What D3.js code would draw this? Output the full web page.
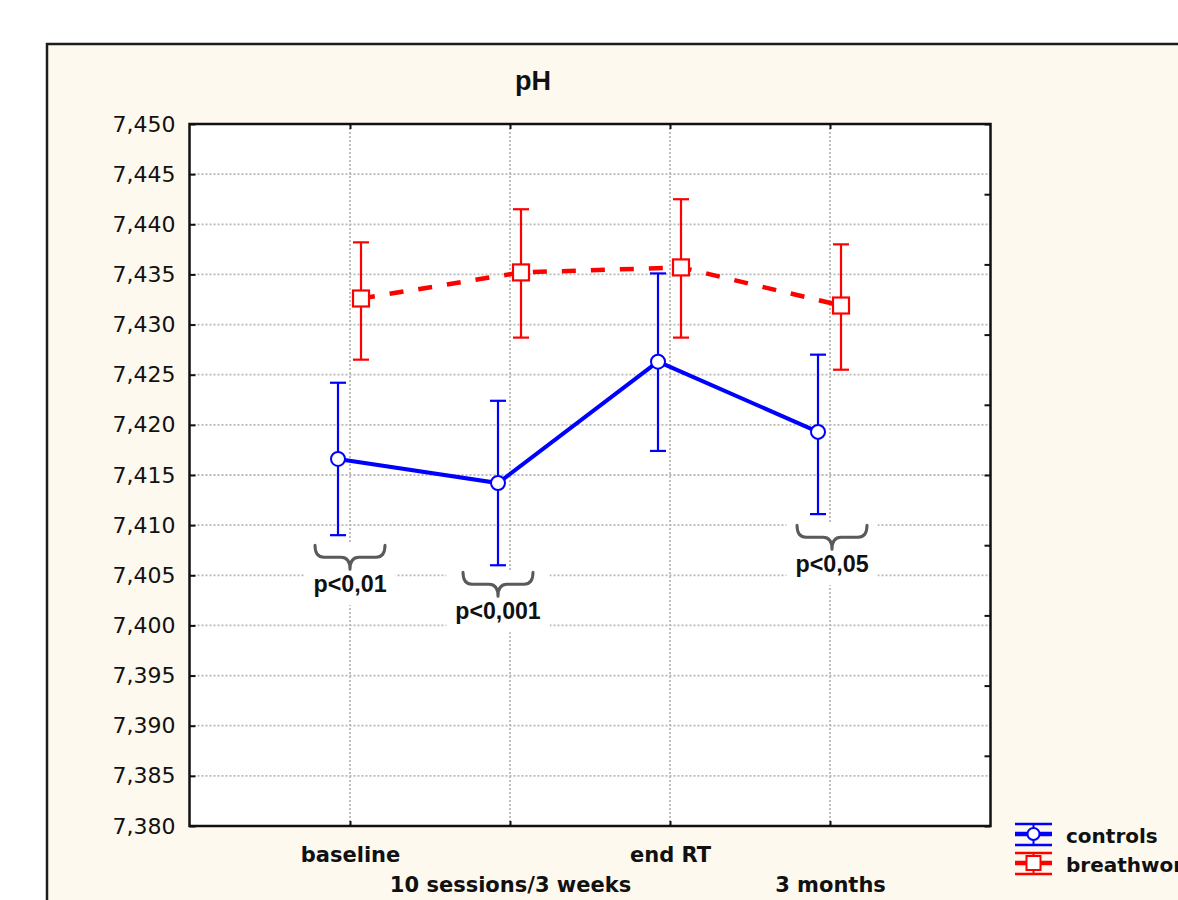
<!DOCTYPE html>
<html>
<head>
<meta charset="utf-8">
<script src="https://cdn.jsdelivr.net/npm/d3@7"></script>
<style>
  html, body { margin: 0; padding: 0; background: #ffffff; }
  svg { display: block; }
</style>
</head>
<body>
<svg id="chart" width="1178" height="900"></svg>
<script>
// ---- data ----
const categories = ["baseline", "10 sessions/3 weeks", "end RT", "3 months"];

const controlsMean  = [7.4166, 7.4142, 7.4263, 7.4193];
const controlsUpper = [7.4242, 7.4224, 7.4351, 7.4270];
const controlsLower = [7.4090, 7.4060, 7.4174, 7.4111];

const breathMean  = [7.4326, 7.4352, 7.4357, 7.4319];
const breathUpper = [7.4382, 7.4415, 7.4425, 7.4380];
const breathLower = [7.4265, 7.4287, 7.4287, 7.4255];

const seriesNames = ["controls", "breathwork"];

const yTickValues = [7.380, 7.385, 7.390, 7.395, 7.400, 7.405, 7.410,
                     7.415, 7.420, 7.425, 7.430, 7.435, 7.440, 7.445, 7.450];

const pLabels     = ["p<0,01", "p<0,001", "p<0,05"];
const pCategory   = [0, 1, 3];
const pBraceValue = [7.4080, 7.4053, 7.4100];

// ---- layout & style ----
const plotL = 189.5, plotR = 990.5, plotT = 124, plotB = 826;
const BLUE = "#0000ff", RED = "#ff0000";
const seriesOffset = [-12, 11];       // horizontal dodge of the two groups
const braceDx = [0, -12, 2];          // brace nudges relative to category
const axisFont = "'DejaVu Sans', Verdana, sans-serif";

const svg = d3.select("#chart");

const x = d3.scalePoint().domain(categories).range([190, 990]).padding(1);
const y = d3.scaleLinear().domain([7.380, 7.450]).range([plotB, plotT]);
const yRight = d3.scaleLinear().domain([0, 10]).range([plotB, plotT]);

const commaLocale = d3.formatLocale({decimal: ",", thousands: ".", grouping: [3], currency: ["", ""]});
const fmt = commaLocale.format(".3f");

// outer panel
svg.append("rect")
  .attr("x", 47).attr("y", 44).attr("width", 1200).attr("height", 900)
  .attr("fill", "#fef9ee").attr("stroke", "#1c1c1c").attr("stroke-width", 2.5);

// title
svg.append("text")
  .attr("x", 533).attr("y", 90)
  .attr("text-anchor", "middle")
  .attr("font-family", "'Liberation Sans', Arial, sans-serif")
  .attr("font-weight", "bold").attr("font-size", 27)
  .attr("fill", "#111")
  .text("pH");

// plot area
svg.append("rect")
  .attr("x", plotL).attr("y", plotT).attr("width", plotR - plotL).attr("height", plotB - plotT)
  .attr("fill", "#ffffff");

// gridlines
const grid = svg.append("g")
  .attr("stroke", "#b8b8b8").attr("stroke-width", 1.8).attr("stroke-dasharray", "2,2");
grid.selectAll("line.h")
  .data(yTickValues.slice(1, -1))
  .join("line")
  .attr("x1", plotL).attr("x2", plotR)
  .attr("y1", d => y(d)).attr("y2", d => y(d));
grid.selectAll("line.v")
  .data(categories)
  .join("line")
  .attr("x1", d => x(d)).attr("x2", d => x(d))
  .attr("y1", plotT).attr("y2", plotB);

// significance annotations (brace + label on a white box)
const ann = svg.append("g");
pLabels.forEach((label, i) => {
  const cx = x(categories[pCategory[i]]) + braceDx[i];
  const y0 = y(pBraceValue[i]);
  const half = 35, depth = 12, tip = 24, r = 9;
  const g = ann.append("g");
  const box = g.append("rect").attr("fill", "#ffffff");
  const path = [
    `M${cx - half},${y0}`,
    `Q${cx - half},${y0 + depth} ${cx - half + r},${y0 + depth}`,
    `L${cx - r},${y0 + depth}`,
    `Q${cx},${y0 + depth} ${cx},${y0 + tip}`,
    `Q${cx},${y0 + depth} ${cx + r},${y0 + depth}`,
    `L${cx + half - r},${y0 + depth}`,
    `Q${cx + half},${y0 + depth} ${cx + half},${y0}`
  ].join(" ");
  g.append("path").attr("d", path)
    .attr("fill", "none").attr("stroke", "#5a5a5a").attr("stroke-width", 3)
    .attr("stroke-linecap", "round").attr("stroke-linejoin", "round");
  // condensed bold label: glyphs squeezed to a narrow set width
  g.append("text")
    .attr("x", cx).attr("y", y0 + 47)
    .attr("text-anchor", "middle")
    .attr("font-family", "'Liberation Sans', Arial, sans-serif")
    .attr("font-weight", "bold").attr("font-size", 24)
    .attr("textLength", 12.2 * label.length)
    .attr("lengthAdjust", "spacingAndGlyphs")
    .attr("fill", "#111")
    .text(label);
  const bb = g.node().getBBox();
  box.attr("x", bb.x - 9).attr("y", y0 - 2)
     .attr("width", bb.width + 18).attr("height", bb.y + bb.height - y0 + 10);
});

// series
const series = [
  {name: seriesNames[0], mean: controlsMean, upper: controlsUpper, lower: controlsLower,
   color: BLUE, dx: seriesOffset[0], dash: null, marker: "circle"},
  {name: seriesNames[1], mean: breathMean, upper: breathUpper, lower: breathLower,
   color: RED, dx: seriesOffset[1], dash: "14,15", marker: "square"}
];

const capHalf = 8;
series.forEach(s => {
  const g = svg.append("g");
  const pts = categories.map((c, i) => ({
    x: x(c) + s.dx, m: s.mean[i], hi: s.upper[i], lo: s.lower[i]
  }));
  // error bars
  const eb = g.append("g").attr("stroke", s.color).attr("stroke-width", 2.2).attr("fill", "none");
  eb.selectAll("line.stem").data(pts).join("line")
    .attr("x1", d => d.x).attr("x2", d => d.x)
    .attr("y1", d => y(d.hi)).attr("y2", d => y(d.lo));
  eb.selectAll("line.top").data(pts).join("line")
    .attr("x1", d => d.x - capHalf).attr("x2", d => d.x + capHalf)
    .attr("y1", d => y(d.hi)).attr("y2", d => y(d.hi));
  eb.selectAll("line.bot").data(pts).join("line")
    .attr("x1", d => d.x - capHalf).attr("x2", d => d.x + capHalf)
    .attr("y1", d => y(d.lo)).attr("y2", d => y(d.lo));
  // mean line
  g.append("path")
    .datum(pts)
    .attr("d", d3.line().x(d => d.x).y(d => y(d.m)))
    .attr("fill", "none").attr("stroke", s.color)
    .attr("stroke-width", s.dash ? 4.5 : 4)
    .attr("stroke-dasharray", s.dash);
  // markers
  if (s.marker === "circle") {
    g.selectAll("circle").data(pts).join("circle")
      .attr("cx", d => d.x).attr("cy", d => y(d.m)).attr("r", 7)
      .attr("fill", "#ffffff").attr("stroke", s.color).attr("stroke-width", 2);
  } else {
    g.selectAll("rect").data(pts).join("rect")
      .attr("x", d => d.x - 8).attr("y", d => y(d.m) - 8)
      .attr("width", 16).attr("height", 16)
      .attr("fill", "#ffffff").attr("stroke", s.color).attr("stroke-width", 2.2);
  }
});

// plot frame
svg.append("rect")
  .attr("x", plotL).attr("y", plotT).attr("width", plotR - plotL).attr("height", plotB - plotT)
  .attr("fill", "none").attr("stroke", "#111").attr("stroke-width", 2.5);

function styleAxis(g) {
  g.select(".domain").remove();
  g.selectAll(".tick line").attr("stroke", "#111").attr("stroke-width", 2);
}

// left axis
svg.append("g")
  .attr("transform", `translate(${plotL},0)`)
  .call(d3.axisLeft(y).tickValues(yTickValues).tickSizeInner(-6).tickSizeOuter(0)
          .tickPadding(14).tickFormat(fmt))
  .call(styleAxis)
  .call(g => g.selectAll("text")
    .attr("font-family", axisFont).attr("font-size", 22).attr("fill", "#111"));

// right axis (ticks only)
svg.append("g")
  .attr("transform", `translate(${plotR},0)`)
  .call(d3.axisRight(yRight).ticks(10).tickSizeInner(-6).tickSizeOuter(0).tickFormat(""))
  .call(styleAxis);

// top axis (ticks only)
svg.append("g")
  .attr("transform", `translate(0,${plotT})`)
  .call(d3.axisTop(x).tickSizeInner(-5).tickSizeOuter(0).tickFormat(""))
  .call(styleAxis);

// bottom axis with staggered category labels
svg.append("g")
  .attr("transform", `translate(0,${plotB})`)
  .call(d3.axisBottom(x).tickSizeInner(-5).tickSizeOuter(0).tickPadding(0))
  .call(styleAxis)
  .call(g => g.selectAll("text")
    .attr("y", (d, i) => i % 2 ? 66 : 36).attr("dy", 0)
    .attr("font-family", axisFont).attr("font-weight", "bold")
    .attr("font-size", 21).attr("fill", "#111"));

// legend (runs past the right edge of the panel)
const legend = svg.append("g").attr("transform", "translate(1015,834)");
series.forEach((s, i) => {
  const g = legend.append("g").attr("transform", `translate(0,${i * 29})`);
  const w = 37, c = w / 2;
  g.append("line").attr("x1", 0).attr("x2", w).attr("y1", -10).attr("y2", -10)
    .attr("stroke", s.color).attr("stroke-width", 2.5);
  g.append("line").attr("x1", 0).attr("x2", w).attr("y1", 11).attr("y2", 11)
    .attr("stroke", s.color).attr("stroke-width", 2.5);
  g.append("line").attr("x1", c).attr("x2", c).attr("y1", -10).attr("y2", 11)
    .attr("stroke", s.color).attr("stroke-width", 2);
  g.append("line").attr("x1", 0).attr("x2", w).attr("y1", 0).attr("y2", 0)
    .attr("stroke", s.color).attr("stroke-width", 4.5);
  if (s.marker === "circle") {
    g.append("circle").attr("cx", c).attr("cy", 0).attr("r", 6)
      .attr("fill", "#ffffff").attr("stroke", s.color).attr("stroke-width", 2);
  } else {
    g.append("rect").attr("x", c - 7).attr("y", -7).attr("width", 14).attr("height", 14)
      .attr("fill", "#ffffff").attr("stroke", s.color).attr("stroke-width", 2);
  }
  g.append("text")
    .attr("x", 51).attr("y", 9)
    .attr("font-family", axisFont).attr("font-weight", "bold")
    .attr("font-size", 20).attr("fill", "#111")
    .text(s.name);
});
</script>
</body>
</html>
